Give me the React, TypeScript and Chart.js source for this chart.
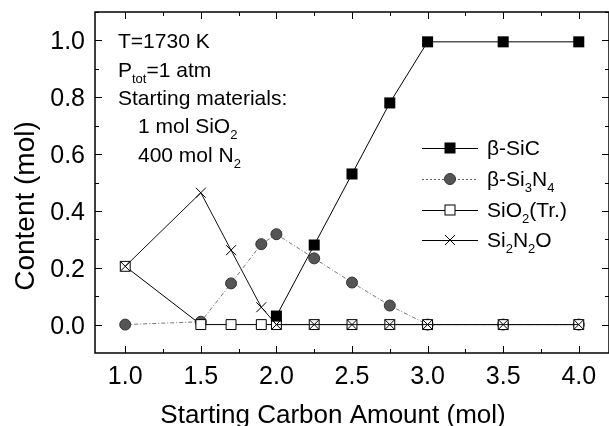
import React, { useEffect, useRef } from 'react';
import { Chart, registerables } from 'chart.js';

Chart.register(...registerables);

// ---- data ----
const carbon = [1.0, 1.5, 1.7, 1.9, 2.0, 2.25, 2.5, 2.75, 3.0, 3.5, 4.0];
const sicCarbon = [2.0, 2.25, 2.5, 2.75, 3.0, 3.5, 4.0];
const sic = [0.03, 0.28, 0.53, 0.78, 0.995, 0.995, 0.995];
const si3n4 = [0, 0.01, 0.145, 0.283, 0.318, 0.233, 0.148, 0.067, 0, 0, 0];
const sio2 = [0.205, 0, 0, 0, 0, 0, 0, 0, 0, 0, 0];
const si2n2o = [0.205, 0.464, 0.262, 0.061, 0, 0, 0, 0, 0, 0, 0];
const xTicks = [1.0, 1.5, 2.0, 2.5, 3.0, 3.5, 4.0];
const yTicks = [0.0, 0.2, 0.4, 0.6, 0.8, 1.0];
const xMinor = [0.75, 1.25, 1.75, 2.25, 2.75, 3.25, 3.75, 4.25];
const yMinor = [-0.1, 0.1, 0.3, 0.5, 0.7, 0.9, 1.1];

const FONT = "'Liberation Sans', Arial, Helvetica, sans-serif";
const GRAY = '#555555';

type Part = [string, number];

function drawRich(ctx: CanvasRenderingContext2D, x: number, y: number, parts: Part[], size: number) {
  let cx = x;
  for (const [t, sub] of parts) {
    const fs = sub ? Math.round(size * 0.62) : size;
    ctx.font = `${fs}px ${FONT}`;
    ctx.fillText(t, cx, sub ? y + size * 0.28 : y);
    cx += ctx.measureText(t).width;
  }
}

function drawMarker(ctx: CanvasRenderingContext2D, kind: string, x: number, y: number) {
  ctx.save();
  ctx.lineWidth = 1;
  ctx.setLineDash([]);
  if (kind === 'sq') {
    ctx.fillStyle = '#000';
    ctx.fillRect(x - 5.5, y - 5.5, 11, 11);
  } else if (kind === 'circ') {
    ctx.beginPath();
    ctx.arc(x, y, 5.5, 0, Math.PI * 2);
    ctx.fillStyle = GRAY;
    ctx.fill();
    ctx.strokeStyle = '#333';
    ctx.stroke();
  } else if (kind === 'open') {
    ctx.fillStyle = '#fff';
    ctx.fillRect(x - 5, y - 5, 10, 10);
    ctx.strokeStyle = '#000';
    ctx.strokeRect(x - 5, y - 5, 10, 10);
  } else if (kind === 'x') {
    ctx.strokeStyle = '#000';
    ctx.beginPath();
    ctx.moveTo(x - 5, y - 5);
    ctx.lineTo(x + 5, y + 5);
    ctx.moveTo(x + 5, y - 5);
    ctx.lineTo(x - 5, y + 5);
    ctx.stroke();
  }
  ctx.restore();
}

const decorPlugin = {
  id: 'decor',
  afterDraw(chart: any) {
    const ctx: CanvasRenderingContext2D = chart.ctx;
    const ca = chart.chartArea;
    const xs = chart.scales.x;
    const ys = chart.scales.y;
    ctx.save();
    // frame
    ctx.strokeStyle = '#000';
    ctx.lineWidth = 1.5;
    ctx.strokeRect(ca.left, ca.top, ca.right - ca.left, ca.bottom - ca.top);
    ctx.lineWidth = 1;
    const tick = (vals: number[], len: number) => {
      for (const v of vals) {
        const px = Math.round(xs.getPixelForValue(v)) + 0.5;
        if (px < ca.left || px > ca.right) continue;
        ctx.beginPath();
        ctx.moveTo(px, ca.bottom);
        ctx.lineTo(px, ca.bottom - len);
        ctx.moveTo(px, ca.top);
        ctx.lineTo(px, ca.top + len);
        ctx.stroke();
      }
    };
    const ytick = (vals: number[], len: number) => {
      for (const v of vals) {
        const py = Math.round(ys.getPixelForValue(v)) + 0.5;
        if (py < ca.top || py > ca.bottom) continue;
        ctx.beginPath();
        ctx.moveTo(ca.left, py);
        ctx.lineTo(ca.left + len, py);
        ctx.moveTo(ca.right, py);
        ctx.lineTo(ca.right - len, py);
        ctx.stroke();
      }
    };
    tick(xTicks, 7);
    tick(xMinor, 4);
    ytick(yTicks, 7);
    ytick(yMinor, 4);

    // tick labels
    ctx.fillStyle = '#000';
    ctx.font = `25px ${FONT}`;
    ctx.textBaseline = 'alphabetic';
    ctx.textAlign = 'center';
    for (const v of xTicks) {
      ctx.fillText(v.toFixed(1), xs.getPixelForValue(v), ca.bottom + 31);
    }
    ctx.textAlign = 'right';
    for (const v of yTicks) {
      ctx.fillText(v.toFixed(1), ca.left - 10, ys.getPixelForValue(v) + 9);
    }

    // annotation
    ctx.textAlign = 'left';
    const ax = ca.left + 23;
    const ax2 = ca.left + 43;
    const as = 21;
    drawRich(ctx, ax, ca.top + 36, [['T=1730 K', 0]], as);
    drawRich(ctx, ax, ca.top + 65, [['P', 0], ['tot', 1], ['=1 atm', 0]], as);
    drawRich(ctx, ax, ca.top + 93, [['Starting materials:', 0]], as);
    drawRich(ctx, ax2, ca.top + 121, [['1 mol SiO', 0], ['2', 1]], as);
    drawRich(ctx, ax2, ca.top + 150, [['400 mol N', 0], ['2', 1]], as);

    // legend
    const lx0 = ca.left + 327;
    const lx1 = ca.left + 383;
    const lm = ca.left + 355;
    const lt = ca.left + 392;
    const rows: { y: number; kind: string; dash: number[]; color: string; parts: Part[] }[] = [
      { y: ca.top + 136, kind: 'sq', dash: [], color: '#000', parts: [['\u03B2-SiC', 0]] },
      { y: ca.top + 167, kind: 'circ', dash: [2, 2], color: '#666', parts: [['\u03B2-Si', 0], ['3', 1], ['N', 0], ['4', 1]] },
      { y: ca.top + 198, kind: 'open', dash: [], color: '#000', parts: [['SiO', 0], ['2', 1], ['(Tr.)', 0]] },
      { y: ca.top + 228, kind: 'x', dash: [], color: '#000', parts: [['Si', 0], ['2', 1], ['N', 0], ['2', 1], ['O', 0]] },
    ];
    for (const r of rows) {
      ctx.save();
      ctx.strokeStyle = r.color;
      ctx.lineWidth = 1;
      ctx.setLineDash(r.dash);
      ctx.beginPath();
      ctx.moveTo(lx0, r.y + 0.5);
      ctx.lineTo(lx1, r.y + 0.5);
      ctx.stroke();
      ctx.restore();
      drawMarker(ctx, r.kind, lm, r.y);
      ctx.fillStyle = '#000';
      drawRich(ctx, lt, r.y + 7, r.parts, 21);
    }

    // axis titles
    ctx.font = `26px ${FONT}`;
    ctx.textAlign = 'center';
    ctx.fillText('Starting Carbon Amount (mol)', ca.left + 238, ca.bottom + 70);
    ctx.save();
    ctx.translate(34, ca.top + 194);
    ctx.rotate(-Math.PI / 2);
    ctx.font = `28px ${FONT}`;
    ctx.fillText('Content (mol)', 0, 0);
    ctx.restore();
    ctx.restore();
  },
};

export default function App() {
  const ref = useRef<HTMLCanvasElement>(null);
  useEffect(() => {
    if (!ref.current) return;
    const pts = (xs: number[], ys: number[]) => xs.map((x, i) => ({ x, y: ys[i] }));
    const chart = new Chart(ref.current, {
      type: 'line',
      data: {
        datasets: [
          {
            label: '\u03B2-SiC',
            data: pts(sicCarbon, sic),
            borderColor: '#000',
            borderWidth: 1,
            pointStyle: 'rect',
            pointRadius: 7.8,
            pointBackgroundColor: '#000',
            pointBorderColor: '#000',
            pointBorderWidth: 0,
          },
          {
            label: 'Si2N2O',
            data: pts(carbon, si2n2o),
            borderColor: '#111',
            borderWidth: 1,
            pointStyle: 'crossRot',
            pointRadius: 7,
            pointBorderColor: '#000',
            pointBorderWidth: 1,
          },
          {
            label: 'SiO2(Tr.)',
            data: pts(carbon, sio2),
            borderColor: '#000',
            borderWidth: 1,
            pointStyle: 'rect',
            pointRadius: 7,
            pointBackgroundColor: '#fff',
            pointBorderColor: '#000',
            pointBorderWidth: 1,
          },
          {
            label: '\u03B2-Si3N4',
            data: pts(carbon, si3n4),
            borderColor: '#777',
            borderWidth: 1,
            borderDash: [4, 2, 1, 2],
            pointStyle: 'circle',
            pointRadius: 5.5,
            pointBackgroundColor: GRAY,
            pointBorderColor: '#333',
            pointBorderWidth: 1,
          },
        ],
      },
      options: {
        animation: false,
        responsive: false,
        events: [],
        layout: { autoPadding: false, padding: { top: 12, right: -3, left: 0, bottom: 0 } },
        plugins: { legend: { display: false }, tooltip: { enabled: false } },
        scales: {
          x: {
            type: 'linear',
            min: 0.8,
            max: 4.2,
            grid: { display: false, drawTicks: false },
            border: { display: false },
            ticks: { display: false, includeBounds: false },
            afterBuildTicks: (s: any) => {
              s.ticks = xTicks.map((v) => ({ value: v }));
            },
            afterFit: (s: any) => {
              s.height = 73;
            },
          },
          y: {
            type: 'linear',
            min: -0.1,
            max: 1.1,
            grid: { display: false, drawTicks: false },
            border: { display: false },
            ticks: { display: false, includeBounds: false },
            afterBuildTicks: (s: any) => {
              s.ticks = yTicks.map((v) => ({ value: v }));
            },
            afterFit: (s: any) => {
              s.width = 95;
            },
          },
        },
      },
      plugins: [decorPlugin],
    });
    return () => chart.destroy();
  }, []);
  return (
    <div style={{ position: 'fixed', left: 0, top: 0, width: 609, height: 426, background: '#fff' }}>
      <canvas ref={ref} width={609} height={426} style={{ width: 609, height: 426 }} />
    </div>
  );
}
